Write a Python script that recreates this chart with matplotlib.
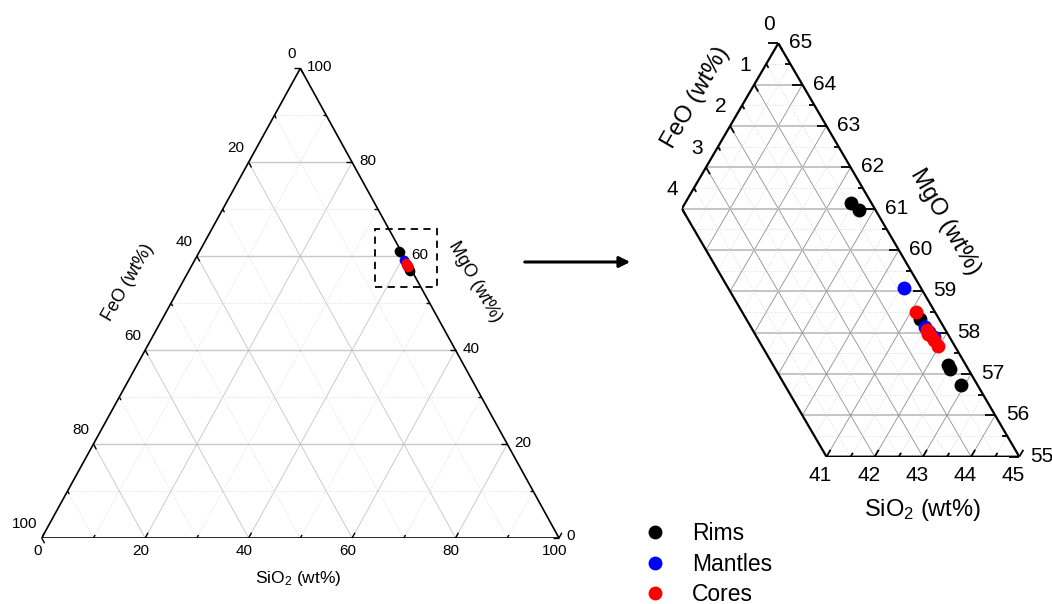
import numpy as np
import matplotlib
matplotlib.use('Agg')
import matplotlib.pyplot as plt
from matplotlib.patches import Polygon, Rectangle, FancyArrowPatch
from matplotlib.lines import Line2D

plt.rcParams['font.family'] = ['Liberation Sans', 'DejaVu Sans']
plt.rcParams['mathtext.fontset'] = 'custom'
plt.rcParams['mathtext.rm'] = 'Liberation Sans'
plt.rcParams['mathtext.it'] = 'Liberation Sans:italic'

# compositions (wt%)
rims_sio2 = [38.44, 38.69, 41.28, 42.41, 42.51, 42.92]
rims_feo = [0.43, 0.35, 0.40, 0.36, 0.38, 0.34]
rims_mgo = [61.13, 60.96, 58.32, 57.23, 57.11, 56.74]

mantles_sio2 = [40.57, 41.47, 41.62, 41.77]
mantles_feo = [0.34, 0.39, 0.36, 0.33]
mantles_mgo = [59.09, 58.14, 58.02, 57.90]

cores_sio2 = [41.11, 41.55, 41.62, 41.68, 41.81, 41.97]
cores_feo = [0.39, 0.39, 0.40, 0.38, 0.37, 0.36]
cores_mgo = [58.50, 58.06, 57.98, 57.94, 57.82, 57.67]

groups = [('Rims', 'black', rims_sio2, rims_feo, rims_mgo),
          ('Mantles', 'blue', mantles_sio2, mantles_feo, mantles_mgo),
          ('Cores', 'red', cores_sio2, cores_feo, cores_mgo)]

W, H = 1052, 604
fig = plt.figure(figsize=(W / 100, H / 100), dpi=100)


def ternary_xy(si, fe, mg):
    si, fe, mg = np.asarray(si, float), np.asarray(fe, float), np.asarray(mg, float)
    tot = si + fe + mg
    return 100 * (si + mg / 2) / tot, 100 * mg / tot


def add_axes_px(x0, x1, y0, y1):
    # pixel box (y measured from the top)
    ax = fig.add_axes([x0 / W, (H - y1) / H, (x1 - x0) / W, (y1 - y0) / H])
    ax.axis('off')
    return ax


def tick(ax, x, y, d, L, sx, sy, lw=1.0):
    ux, uy = d[0] * sx, d[1] * sy
    n = np.hypot(ux, uy)
    ax.plot([x, x + L * ux / n / sx], [y, y + L * uy / n / sy], color='black',
            lw=lw, clip_on=False, solid_capstyle='butt')


def label(ax, x, y, s, off, fs, ha):
    ax.annotate(s, (x, y), xytext=(off[0] * 0.72, -off[1] * 0.72),
                textcoords='offset points', ha=ha, va='center', fontsize=fs,
                annotation_clip=False)


d_mg = (-1, 0)     # along MgO iso-lines
d_si = (0.5, 1)    # along SiO2 iso-lines
d_fe = (0.5, -1)   # along FeO iso-lines

# ---------------- left: full diagram ----------------
lx0, lx1, ly0, ly1 = 41.7, 559.0, 68.3, 538.0
axL = add_axes_px(lx0, lx1, ly0, ly1)
axL.set_xlim(0, 100)
axL.set_ylim(0, 100)
sxL, syL = (lx1 - lx0) / 100, (ly1 - ly0) / 100

for v in range(10, 100, 10):
    major = v % 20 == 0
    ls = '-' if major else (0, (1, 2))
    cg = '#c4c4c4' if major else '#d4d4d4'
    axL.plot([v / 2, 100 - v / 2], [v, v], color='#c8c8c8' if major else cg,
             lw=1.0 if major else 0.6, ls=ls, zorder=1)
    axL.plot([v, v + (100 - v) / 2], [0, 100 - v], color=cg, lw=0.6, ls=ls, zorder=1)
    axL.plot([100 - v, (100 - v) / 2], [0, 100 - v], color=cg, lw=0.6, ls=ls, zorder=1)

axL.add_patch(Polygon([[0, 0], [100, 0], [50, 100]], closed=True, fill=False,
                      ec='black', lw=1.2, zorder=3))

for v in range(0, 101, 10):
    L = 6 if v % 20 == 0 else 3.5
    # SiO2 bottom
    tick(axL, v, 0, d_si, L, sxL, syL)
    # FeO left
    tick(axL, (100 - v) / 2, 100 - v, d_fe, L, sxL, syL)
    # MgO right
    tick(axL, 100 - v / 2, v, d_mg, L, sxL, syL)
    if v % 20 == 0:
        label(axL, v, 0, str(v), (-4.5, 12.8), 11, 'center')
        label(axL, (100 - v) / 2, 100 - v, str(v), (-4, -14.5), 11, 'right')
        label(axL, 100 - v / 2, v, str(v), (7, -1.5), 11, 'left')

for name, col, si, fe, mg in groups:
    x, y = ternary_xy(si, fe, mg)
    axL.plot(x, y, 'o', color=col, ms=7, mec='none', zorder=5, clip_on=False)

axL.add_patch(Rectangle((64.4, 53.4), 12.0, 12.4, fill=False, ec='black',
                        lw=1.3, ls=(0, (4, 3)), zorder=6, clip_on=False))

# ---------------- right: zoomed region ----------------
rx0, rx1, ry0, ry1 = 681.9, 1019.3, 43.3, 456.7
axR = add_axes_px(rx0, rx1, ry0, ry1)
axR.set_xlim(65.5, 72.5)
axR.set_ylim(55, 65)
sxR, syR = (rx1 - rx0) / 7, (ry1 - ry0) / 10

corners = [[67.5, 65], [72.5, 55], [68.5, 55], [65.5, 61]]
outline = Polygon(corners, closed=True, fill=False, ec='black', lw=1.6, zorder=4)
clip = Polygon(corners, closed=True, transform=axR.transData, fill=False, visible=False)
axR.add_patch(clip)
mm = np.array([45, 75])
for k in range(0, 41):
    v = k / 2
    major = k % 2 == 0
    ls = '-' if major else (0, (1, 2))
    cdiag = '#8f8f8f' if major else '#cfcfcf'
    lines = []
    m = 55 + v
    if 55 < m < 65:
        lines.append(axR.plot([60, 80], [m, m], color='#c0c0c0' if major else '#d2d2d2',
                              lw=1.3 if major else 0.6, ls=ls, zorder=1)[0])
    s = 35 + v
    if 35 < s < 45:
        lines.append(axR.plot(s + mm / 2, mm, color=cdiag, lw=0.6, ls=ls, zorder=1)[0])
    f = v
    if 0 < f < 4:
        lines.append(axR.plot(100 - f - mm / 2, mm, color=cdiag, lw=0.6, ls=ls, zorder=1)[0])
    for ln in lines:
        ln.set_clip_path(clip)
axR.add_patch(outline)

for k in range(0, 21):
    v = k / 2
    major = k % 2 == 0
    L = 10 if major else 5
    mg = 55 + v
    tick(axR, 100 - mg / 2, mg, d_mg, L, sxR, syR, lw=1.3)
    if major:
        label(axR, 100 - mg / 2, mg, '%d' % mg, (10.5, -0.5), 15, 'left')
for k in range(0, 9):
    v = k / 2
    major = k % 2 == 0
    L = 8 if major else 4.5
    tick(axR, 67.5 - v / 2, 65 - v, d_fe, L, sxR, syR, lw=1.3)
    if major:
        label(axR, 67.5 - v / 2, 65 - v, '%d' % v, (-3.5, -19), 15, 'right')
    si = 41 + v
    tick(axR, si + 27.5, 55, d_si, L, sxR, syR, lw=1.3)
    if major:
        label(axR, si + 27.5, 55, '%d' % si, (-6, 19), 15, 'center')

handles = []
for name, col, si, fe, mg in groups:
    x, y = ternary_xy(si, fe, mg)
    axR.plot(x, y, 'o', color=col, ms=10, mec='none', zorder=5, clip_on=False)
    handles.append(Line2D([], [], ls='none', marker='o', color=col, ms=10,
                          mec='none', label=name))

# ---------------- overlay: titles, arrow, legend ----------------
ov = fig.add_axes([0, 0, 1, 1])
ov.set_xlim(0, W)
ov.set_ylim(H, 0)
ov.axis('off')
ov.text(128, 282, 'FeO (wt%)', rotation=60, ha='center', va='center',
        rotation_mode='anchor', fontsize=13)
ov.text(475, 282, 'MgO (wt%)', rotation=-60, ha='center', va='center',
        rotation_mode='anchor', fontsize=13)
ov.text(298, 578, r'SiO$_2$ (wt%)', ha='center', va='center', fontsize=12.5)
ov.text(696, 97, 'FeO (wt%)', rotation=60, ha='center', va='center',
        rotation_mode='anchor', fontsize=17)
ov.text(945, 222, 'MgO (wt%)', rotation=-60, ha='center', va='center',
        rotation_mode='anchor', fontsize=17)
ov.text(923, 510, r'SiO$_2$ (wt%)', ha='center', va='center', fontsize=17)
ov.add_patch(FancyArrowPatch((522, 262), (633, 262), arrowstyle='-|>',
                             mutation_scale=16, lw=2.2, color='black'))

fig.legend(handles=handles, loc='upper left', bbox_to_anchor=(643.5 / W, 1 - 522 / H),
           frameon=False, fontsize=16.5, handletextpad=1.12, labelspacing=0.33,
           borderpad=0, borderaxespad=0, handlelength=1.0)

fig.savefig('out.png', dpi=100)
